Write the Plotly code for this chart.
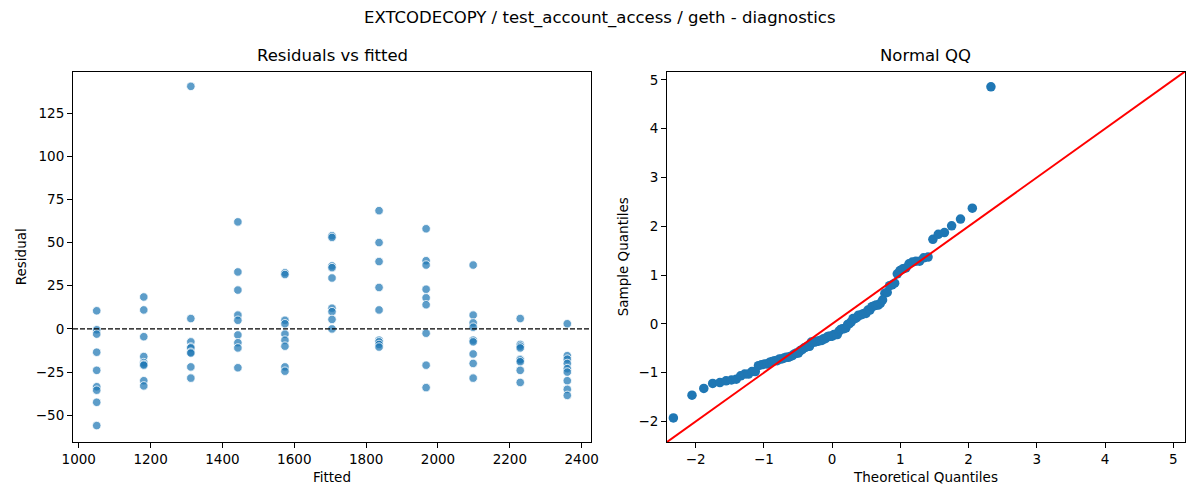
from statistics import NormalDist

import numpy as np
import plotly.graph_objects as go

# fitted levels and the residuals read at each level
fitted_levels = [1050, 1181, 1312, 1443, 1574, 1705, 1836, 1967, 2098, 2229, 2360]
residuals_by_level = [
    [10.5, -0.5, -3, -13.5, -24, -33.5, -35.5, -42.5, -56],
    [18.5, 11, -4.5, -16, -19.5, -20.5, -21, -30, -33],
    [140.5, 6, -7.5, -10.5, -11, -13.5, -14, -22, -28.5],
    [62, 33, 22.5, 8, 5, -3.5, -8, -11, -22.5],
    [32.5, 31.5, 5, 3, -3, -6.5, -10, -22, -24.5],
    [54, 53, 36.5, 35.5, 29.5, 12, 10, 5.5, 0],
    [68.5, 50, 39, 24, 11, -6.5, -7.5, -9, -10.5],
    [58, 39.5, 37, 23, 18, 14, -2.5, -21, -34],
    [37, 8, 3.5, 1, -6.5, -7.5, -14.5, -20, -28.5],
    [6, -9, -10, -11, -17.5, -18, -19, -24, -31],
    [3, -15.5, -17.5, -20, -23, -25, -30, -35, -38.5],
]

fitted = []
resid = []
for f, rs in zip(fitted_levels, residuals_by_level):
    fitted += [f] * len(rs)
    resid += rs
resid = np.array(resid, dtype=float)

# normal QQ (standardised sample vs normal quantiles, positions i/(n+1))
n = len(resid)
sample_q = np.sort((resid - resid.mean()) / resid.std())
theo_q = np.array([NormalDist().inv_cdf(i / (n + 1)) for i in range(1, n + 1)])

FONT = "DejaVu Sans"
lims = [-2.42, 5.17]

fig = go.Figure()

fig.add_trace(go.Scatter(
    x=fitted, y=resid, mode="markers", xaxis="x", yaxis="y",
    marker=dict(size=8.5, color="rgba(31,119,180,0.72)",
                line=dict(color="white", width=0.8)),
    showlegend=False))

fig.add_trace(go.Scatter(
    x=theo_q, y=sample_q, mode="markers", xaxis="x2", yaxis="y2",
    marker=dict(size=9.5, color="#1f77b4", line=dict(width=0)),
    showlegend=False))

fig.add_trace(go.Scatter(
    x=lims, y=lims, mode="lines", xaxis="x2", yaxis="y2",
    line=dict(color="red", width=2), showlegend=False))

# zero line on the residual plot
fig.add_shape(type="line", xref="x domain", yref="y", x0=0, x1=1, y0=0, y1=0,
              line=dict(color="black", width=1.2, dash="5px,2px"))

axis_style = dict(showline=True, mirror=True, linecolor="black", linewidth=1,
                  ticks="outside", ticklen=5, tickcolor="black", showgrid=False,
                  zeroline=False, automargin=False,
                  tickfont=dict(size=13.5, color="black"))

fig.update_layout(
    width=1200, height=500,
    margin=dict(l=0, r=0, t=0, b=0),
    paper_bgcolor="white", plot_bgcolor="white",
    font=dict(family=FONT, color="black"),
    xaxis=dict(domain=[73 / 1200, 591 / 1200], range=[984, 2426], dtick=200,
               title=dict(text="Fitted", font=dict(size=13.5), standoff=6),
               anchor="y", **axis_style),
    yaxis=dict(domain=[1 - 442 / 500, 1 - 71.5 / 500], range=[-65.5, 149.1], dtick=25,
               title=dict(text="Residual", font=dict(size=13.5), standoff=6),
               anchor="x", **axis_style),
    xaxis2=dict(domain=[667 / 1200, 1185 / 1200], range=lims, dtick=1,
                title=dict(text="Theoretical Quantiles", font=dict(size=13.5), standoff=6),
                anchor="y2", **axis_style),
    yaxis2=dict(domain=[1 - 442 / 500, 1 - 71.5 / 500], range=lims, dtick=1,
                title=dict(text="Sample Quantiles", font=dict(size=13.5), standoff=6),
                anchor="x2", **axis_style),
    annotations=[
        dict(text="EXTCODECOPY / test_account_access / geth - diagnostics",
             x=0.5, y=1 - 18 / 500, xref="paper", yref="paper", showarrow=False,
             font=dict(size=16.5), xanchor="center", yanchor="middle"),
        dict(text="Residuals vs fitted", x=332 / 1200, y=1 - 56 / 500,
             xref="paper", yref="paper", showarrow=False,
             font=dict(size=16.5), xanchor="center", yanchor="middle"),
        dict(text="Normal QQ", x=926 / 1200, y=1 - 56 / 500,
             xref="paper", yref="paper", showarrow=False,
             font=dict(size=16.5), xanchor="center", yanchor="middle"),
    ],
)

# drop the page's default body margin so the figure sits at the window corner
fig.write_html("out.html", config={"displayModeBar": False},
               post_script="document.body.style.margin='0';")
